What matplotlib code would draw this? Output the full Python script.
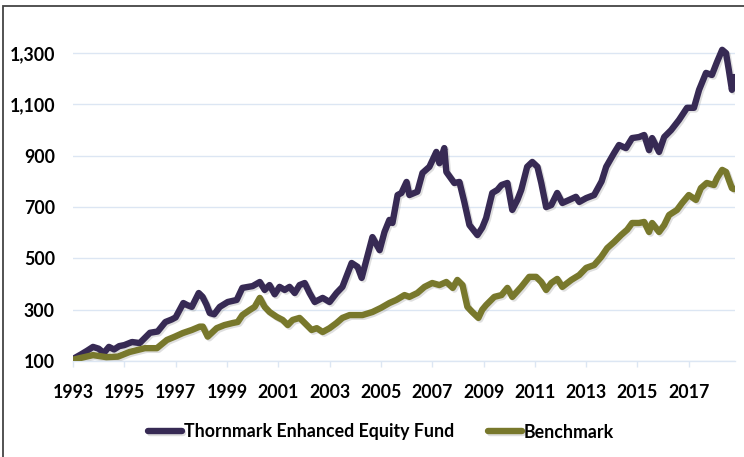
import matplotlib
matplotlib.use("Agg")
import matplotlib.pyplot as plt
import matplotlib.patheffects as pe
from matplotlib.patches import Rectangle
from matplotlib.ticker import FuncFormatter

# values (growth of 100)
fund_years = [
    1993.0, 1993.3, 1993.55, 1993.78, 1994.0, 1994.2, 1994.4, 1994.6, 1994.8,
    1995.0, 1995.3, 1995.6, 1995.8, 1996.0, 1996.3, 1996.6, 1996.85, 1997.0,
    1997.3, 1997.45, 1997.63, 1997.9, 1998.05, 1998.2, 1998.33, 1998.5,
    1998.72, 1999.03, 1999.38, 1999.6, 2000.0, 2000.28, 2000.47, 2000.66,
    2000.86, 2001.05, 2001.25, 2001.44, 2001.64, 2001.83, 2002.03, 2002.22,
    2002.42, 2002.73, 2003.0, 2003.27, 2003.5, 2003.86, 2004.09, 2004.25,
    2004.67, 2004.95, 2005.14, 2005.33, 2005.45, 2005.65, 2005.8, 2006.0,
    2006.11, 2006.42, 2006.62, 2006.89, 2007.16, 2007.28, 2007.47, 2007.55,
    2007.86, 2008.06, 2008.25, 2008.45, 2008.76, 2008.95, 2009.1, 2009.34,
    2009.54, 2009.7, 2009.93, 2010.12, 2010.32, 2010.47, 2010.7, 2010.9,
    2011.1, 2011.25, 2011.44, 2011.64, 2011.87, 2012.07, 2012.34, 2012.6,
    2012.73, 2013.0, 2013.31, 2013.6, 2013.78, 2014.09, 2014.28, 2014.55,
    2014.79, 2015.06, 2015.26, 2015.45, 2015.57, 2015.84, 2016.04, 2016.31,
    2016.62, 2016.93, 2017.2, 2017.4, 2017.67, 2017.9, 2018.1, 2018.3,
    2018.45, 2018.56, 2018.68, 2018.76,
]
fund_values = [
    108, 125, 140, 155, 148, 131, 155, 145, 158,
    162, 174, 170, 190, 210, 215, 252, 262, 270,
    326, 318, 311, 365, 350, 320, 287, 282,
    311, 330, 338, 385, 392, 408, 377, 396,
    360, 389, 377, 389, 365, 396, 404, 365,
    330, 346, 330, 365, 389, 482, 467, 424,
    583, 532, 603, 650, 638, 747, 755, 798,
    747, 760, 833, 857, 915, 871, 930, 837,
    794, 798, 720, 630, 591, 620, 657, 755,
    767, 786, 794, 689, 728, 767, 857, 876,
    857, 794, 700, 708, 755, 716, 728, 740,
    720, 735, 747, 800, 857, 911, 942, 930,
    969, 973, 981, 922, 969, 915, 973, 1000,
    1040, 1087, 1087, 1157, 1223, 1215, 1266, 1313,
    1300, 1234, 1157, 1207,
]

bench_years = [
    1993.0, 1993.78, 1994.3, 1994.75, 1995.2, 1995.8, 1996.27, 1996.66,
    1996.97, 1997.28, 1997.63, 1997.94, 1998.06, 1998.25, 1998.6, 1998.9,
    1999.22, 1999.42, 1999.6, 1999.89, 2000.08, 2000.28, 2000.47, 2000.66,
    2000.94, 2001.17, 2001.37, 2001.56, 2001.83, 2002.03, 2002.3, 2002.5,
    2002.73, 2003.0, 2003.27, 2003.5, 2003.78, 2004.28, 2004.67, 2005.0,
    2005.33, 2005.6, 2005.92, 2006.11, 2006.42, 2006.7, 2007.0, 2007.28,
    2007.55, 2007.8, 2007.98, 2008.18, 2008.37, 2008.56, 2008.8, 2008.95,
    2009.1, 2009.42, 2009.7, 2009.93, 2010.12, 2010.47, 2010.78, 2011.05,
    2011.25, 2011.44, 2011.64, 2011.87, 2012.07, 2012.42, 2012.73, 2013.0,
    2013.31, 2013.58, 2013.82, 2014.09, 2014.36, 2014.6, 2014.79, 2015.06,
    2015.26, 2015.45, 2015.57, 2015.84, 2016.04, 2016.23, 2016.54, 2016.74,
    2017.0, 2017.28, 2017.47, 2017.7, 2017.98, 2018.1, 2018.3, 2018.45,
    2018.56, 2018.68, 2018.76,
]
bench_values = [
    105, 123, 115, 117, 135, 150, 150, 182,
    195, 209, 221, 234, 234, 195, 228, 240,
    248, 252, 279, 299, 311, 346, 311, 291,
    272, 260, 240, 260, 268, 248, 221, 228,
    213, 228, 248, 268, 279, 279, 291, 307,
    326, 338, 357, 350, 365, 389, 404, 396,
    408, 385, 416, 396, 311, 291, 268, 300,
    318, 350, 357, 385, 350, 389, 428, 428,
    408, 377, 404, 420, 389, 416, 435, 463,
    474, 505, 540, 564, 591, 612, 638, 638,
    642, 603, 638, 603, 630, 669, 689, 716,
    747, 728, 774, 794, 786, 813, 845, 837,
    806, 774, 770,
]

x_ticks = list(range(1993, 2018, 2))
y_ticks = [100, 300, 500, 700, 900, 1100, 1300]

series_names = ["Thornmark Enhanced Equity Fund", "Benchmark"]
fund_color = "#372a54"
bench_color = "#78782c"
grid_color = "#dce6f3"

plt.rcParams["font.family"] = ["Lato", "DejaVu Sans"]
plt.rcParams["font.weight"] = "bold"

fig = plt.figure(figsize=(7.44, 4.57), dpi=100)
ax = fig.add_axes([73 / 744, 1 - 361 / 457, 662 / 744, 333.5 / 457])

shadow = [pe.SimpleLineShadow(offset=(1.2, -1.2), alpha=0.25, shadow_color="gray"),
          pe.Normal()]
ax.plot(fund_years, fund_values, color=fund_color, lw=4.6,
        solid_joinstyle="round", solid_capstyle="round",
        label=series_names[0], path_effects=shadow, zorder=3)
ax.plot(bench_years, bench_values, color=bench_color, lw=4.6,
        solid_joinstyle="round", solid_capstyle="round",
        label=series_names[1], path_effects=shadow, zorder=3)

ax.set_xlim(1993, 2018.8)
ax.set_ylim(100, 1400)
ax.set_xticks(x_ticks)
ax.set_yticks(y_ticks)
ax.yaxis.set_major_formatter(FuncFormatter(lambda v, p: f"{int(v):,}"))

ax.grid(axis="y", color=grid_color, lw=1)
ax.set_axisbelow(True)
for side in ["top", "right", "left"]:
    ax.spines[side].set_visible(False)
ax.spines["bottom"].set_color(grid_color)
ax.spines["bottom"].set_linewidth(1)

ax.tick_params(axis="y", length=0, pad=13, labelsize=12.8, labelcolor="black")
ax.tick_params(axis="x", direction="out", length=4.5, color=grid_color,
               width=1, pad=12, labelsize=12.8, labelcolor="black")
for lab in ax.get_xticklabels() + ax.get_yticklabels():
    lab.set_fontweight("bold")

fig.legend(loc="center", bbox_to_anchor=(381 / 744, 1 - 432 / 457),
           ncol=2, frameon=False, handlelength=1.9, handletextpad=0.12,
           columnspacing=1.9, prop={"weight": "bold", "size": 12.8})

# outer border of the chart box (clipped on the right and bottom)
fig.patches.append(Rectangle((3 / 744, -0.2), 1.5, 1.2 - 5.5 / 457,
                             transform=fig.transFigure, fill=False,
                             edgecolor="#444444", lw=1.3))

fig.savefig("out.png", dpi=100)
